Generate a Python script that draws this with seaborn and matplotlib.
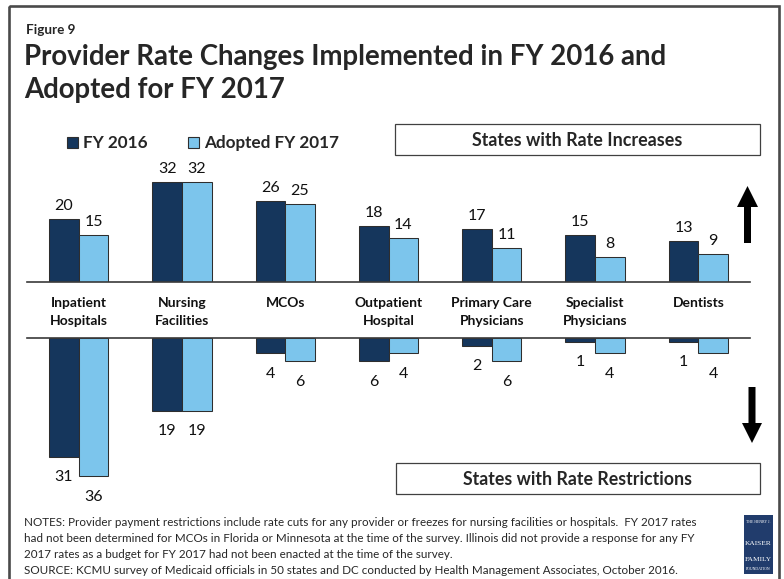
import matplotlib
matplotlib.use("Agg")
import matplotlib.pyplot as plt
import pandas as pd
import seaborn as sns
from matplotlib.patches import Rectangle, FancyArrow
from matplotlib.transforms import blended_transform_factory
from matplotlib import font_manager

# ---------------- data ----------------
categories = ["Inpatient\nHospitals", "Nursing\nFacilities", "MCOs", "Outpatient\nHospital",
              "Primary Care\nPhysicians", "Specialist\nPhysicians", "Dentists"]
series = ["FY 2016", "Adopted FY 2017"]
increases_fy2016 = [20, 32, 26, 18, 17, 15, 13]
increases_fy2017 = [15, 32, 25, 14, 11, 8, 9]
restrictions_fy2016 = [31, 19, 4, 6, 2, 1, 1]
restrictions_fy2017 = [36, 19, 6, 4, 6, 4, 4]

fig_label = "Figure 9"
title_lines = ["Provider Rate Changes Implemented in FY 2016 and", "Adopted for FY 2017"]
box_up_label = "States with Rate Increases"
box_dn_label = "States with Rate Restrictions"
notes_lines = [
    "NOTES: Provider payment restrictions include rate cuts for any provider or freezes for nursing facilities or hospitals.  FY 2017 rates",
    "had not been determined for MCOs in Florida or Minnesota at the time of the survey. Illinois did not provide a response for any FY",
    "2017 rates as a budget for FY 2017 had not been enacted at the time of the survey.",
    "SOURCE: KCMU survey of Medicaid officials in 50 states and DC conducted by Health Management Associates, October 2016.",
]
logo_lines = ["THE HENRY J.", "KAISER", "FAMILY", "FOUNDATION"]

# ---------------- style ----------------
DARK = "#15365C"
LIGHT = "#7CC5EC"
EDGE = "#2e2e2e"
SPINE = "#3a3a3a"

sns.set_theme(style="white")
plt.rcParams["font.family"] = ["Lato", "DejaVu Sans"]

available = {f.name for f in font_manager.fontManager.ttflist}
notes_family = "Liberation Sans Narrow" if "Liberation Sans Narrow" in available else "Lato"
serif_family = "Liberation Serif" if "Liberation Serif" in available else "DejaVu Serif"

W, H = 784, 579
fig = plt.figure(figsize=(W / 100, H / 100), dpi=100)
fig.patch.set_facecolor("white")

ov = fig.add_axes([0, 0, 1, 1], zorder=0)
ov.set_xlim(0, W)
ov.set_ylim(H, 0)
ov.axis("off")

renderer = fig.canvas.get_renderer()


def fit(t, target_w):
    bb = t.get_window_extent(renderer)
    t.set_fontsize(t.get_fontsize() * target_w / bb.width)
    return t.get_fontsize()


def px_axes(x0, y0, x1, y1):
    return fig.add_axes([x0 / W, 1 - y1 / H, (x1 - x0) / W, (y1 - y0) / H])


# ---------------- frame & titles ----------------
ov.add_patch(Rectangle((9.5, 6), 770, 640, fill=False, lw=1.9, edgecolor="#4a4a4a", clip_on=False))

t = ov.text(26, 34, fig_label, fontsize=9, fontweight="bold", va="baseline", ha="left")
fit(t, 49)
t1 = ov.text(24, 65, title_lines[0], fontsize=20, fontweight="bold", va="baseline", ha="left")
fs = fit(t1, 642)
ov.text(24, 98, title_lines[1], fontsize=fs, fontweight="bold", va="baseline", ha="left")

# legend
for (x_sq, x_tx, color, lab) in [(67, 83, DARK, series[0]), (188, 204, LIGHT, series[1])]:
    ov.add_patch(Rectangle((x_sq, 137), 11, 11, facecolor=color, edgecolor=EDGE, lw=0.8))
    ov.text(x_tx, 148, lab, fontsize=12.3, fontweight="bold", va="baseline", ha="left")

# boxes
ov.add_patch(Rectangle((395, 124), 365, 31, facecolor="white", edgecolor="#404040", lw=0.9))
tb = ov.text(577.5, 146, box_up_label, fontsize=12, fontweight="bold", va="baseline", ha="center")
fit(tb, 208)
ov.add_patch(Rectangle((396, 463), 364, 31, facecolor="white", edgecolor="#404040", lw=0.9))
tb2 = ov.text(578, 485, box_dn_label, fontsize=12, fontweight="bold", va="baseline", ha="center")
fit(tb2, 226)

# arrows
ov.add_patch(FancyArrow(747.5, 243, 0, -57, width=7, head_width=21, head_length=21,
                        length_includes_head=True, color="black", lw=0))
ov.add_patch(FancyArrow(752, 387, 0, 56, width=7, head_width=20, head_length=20,
                        length_includes_head=True, color="black", lw=0))

# ---------------- bar charts ----------------
ax_up = px_axes(27, 160, 750, 282)
ax_dn = px_axes(27, 338, 750, 490)

df_up = pd.DataFrame({
    "category": categories * 2,
    "series": [series[0]] * len(categories) + [series[1]] * len(categories),
    "states": increases_fy2016 + increases_fy2017,
})
df_dn = pd.DataFrame({
    "category": categories * 2,
    "series": [series[0]] * len(categories) + [series[1]] * len(categories),
    "states": restrictions_fy2016 + restrictions_fy2017,
})

for ax, df in ((ax_up, df_up), (ax_dn, df_dn)):
    sns.barplot(data=df, x="category", y="states", hue="series", order=categories,
                hue_order=series, palette=[DARK, LIGHT], width=0.573, saturation=1,
                edgecolor=EDGE, linewidth=0.75, errorbar=None, legend=False, ax=ax)
    ax.set_xlim(-0.5, len(categories) - 0.5)
    ax.set_xticks([])
    ax.set_yticks([])
    ax.set_xlabel("")
    ax.set_ylabel("")
    ax.set_facecolor("none")
    for s in ax.spines.values():
        s.set_visible(False)

ax_up.set_ylim(0, 39.0)
ax_dn.set_ylim(39.63, 0)
ax_up.spines["bottom"].set_visible(True)
ax_up.spines["bottom"].set_color(SPINE)
ax_up.spines["bottom"].set_linewidth(1.2)
ax_dn.spines["top"].set_visible(True)
ax_dn.spines["top"].set_color(SPINE)
ax_dn.spines["top"].set_linewidth(1.2)

for cont in ax_up.containers:
    for bar in cont:
        h = bar.get_height()
        ax_up.annotate(f"{h:.0f}", xy=(bar.get_x() + bar.get_width() / 2, h),
                       xytext=(0, 9), textcoords="offset pixels", ha="center",
                       va="baseline", fontsize=11.5, color="#111111", annotation_clip=False)
for cont in ax_dn.containers:
    for bar in cont:
        h = bar.get_height()
        ax_dn.annotate(f"{h:.0f}", xy=(bar.get_x() + bar.get_width() / 2, h),
                       xytext=(0, -24.5), textcoords="offset pixels", ha="center",
                       va="baseline", fontsize=11.5, color="#111111", annotation_clip=False)

# category labels between the two panels
tr = blended_transform_factory(ax_up.transData, ov.transData)
for i, cat in enumerate(categories):
    for j, line in enumerate(cat.split("\n")):
        ax_up.text(i, 307 + 18 * j, line, transform=tr, ha="center", va="baseline",
                   fontsize=10, fontweight="bold", color="#111111")

# ---------------- notes ----------------
tn = ov.text(24, 526, notes_lines[0], fontsize=8, family=notes_family, va="baseline", ha="left")
nfs = fit(tn, 673)
for k, line in enumerate(notes_lines[1:], start=1):
    ov.text(24, 526 + 16 * k, line, fontsize=nfs, family=notes_family, va="baseline", ha="left")

# logo
ov.add_patch(Rectangle((744, 515), 29, 59, facecolor="#213C6C", edgecolor="none"))
for txt, yb, wt in [(logo_lines[0], 523, 25), (logo_lines[1], 545, 27), (logo_lines[2], 561, 27), (logo_lines[3], 570, 25)]:
    tl = ov.text(758.5, yb, txt, fontsize=6, family=serif_family, color="white", ha="center", va="baseline")
    fit(tl, wt)

fig.savefig("out.png", dpi=100, facecolor="white")
